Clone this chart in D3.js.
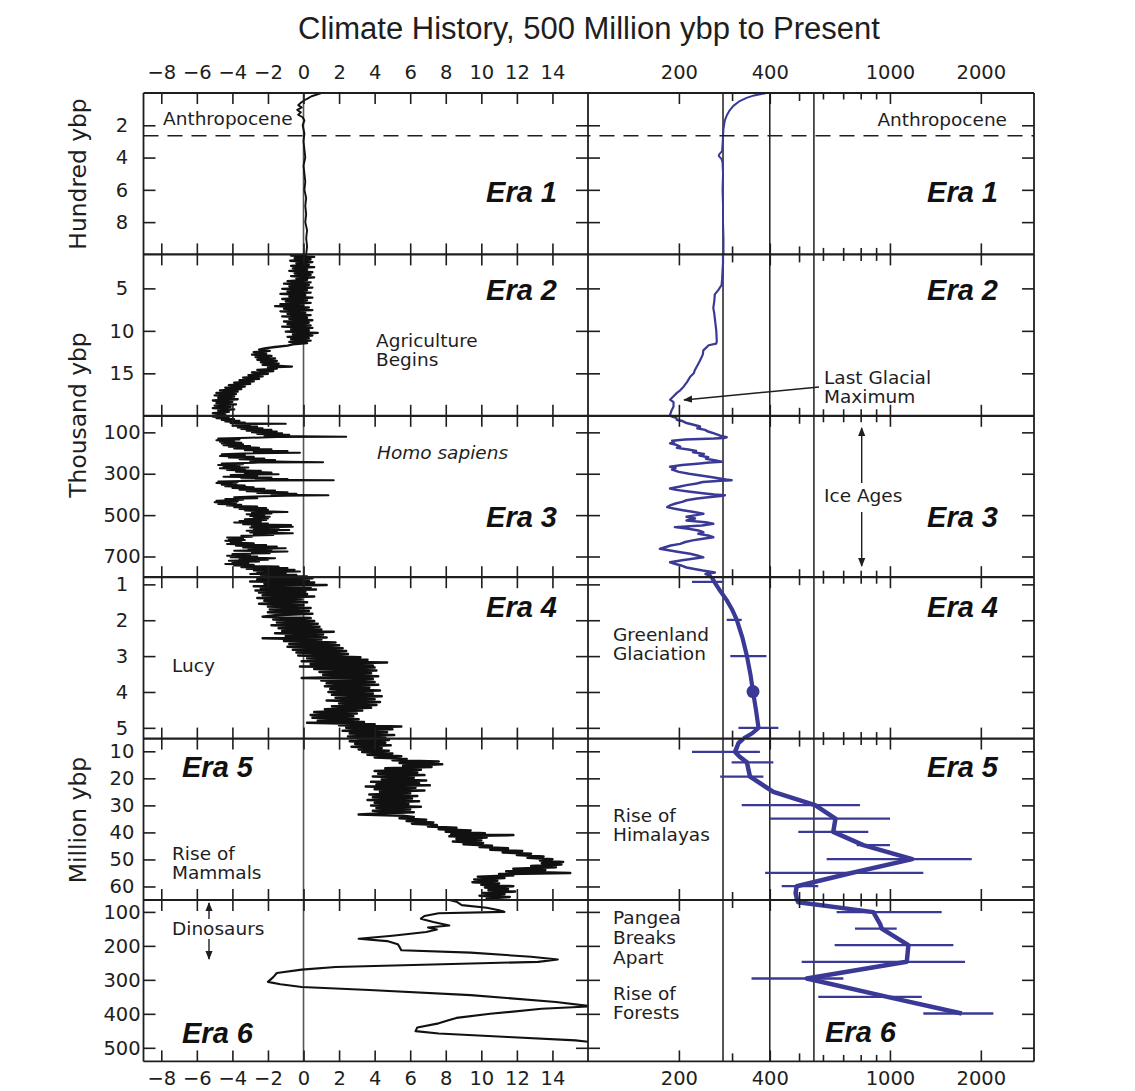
<!DOCTYPE html>
<html><head><meta charset="utf-8">
<script src="https://cdn.jsdelivr.net/npm/d3@7"></script>
<style>
html,body{margin:0;padding:0;background:#fff;}
svg{display:block;}
</style></head><body>
<svg id="chart" width="1135" height="1091"></svg>
<script>
// ---------------- DATA ----------------
const chartTitle = "Climate History, 500 Million ybp to Present";
const eraNames = ["Era 1","Era 2","Era 3","Era 4","Era 5","Era 6"];
// age range of each era row (units: hundred yr, thousand yr, thousand yr, million yr, million yr, million yr)
const eraDomains = [[0,10],[1,20],[20,800],[0.8,5.3],[5.3,65],[65,540]];
const eraTicks = [[2,4,6,8],[5,10,15],[100,300,500,700],[1,2,3,4,5],[10,20,30,40,50,60],[100,200,300,400,500]];
const axisTitles = ["Hundred ybp","Thousand ybp","Million ybp"];
const tempTicks = [-8,-6,-4,-2,0,2,4,6,8,10,12,14];
const co2Ticks = [200,300,400,500,600,700,800,900,1000,2000];
const co2Labels = [200,400,1000,2000];
const co2RefLines = [280,400,560];
const anthropoceneAge = 2.65; // hundred ybp

// temperature anomaly (deg C): [age, temp]
const tempEra1 = [[0,1.0],[0.1,0.75],[0.2,0.45],[0.33,0.25],[0.45,0.05],[0.6,-0.15],[0.75,-0.3],[0.9,-0.1],[1.05,-0.35],[1.2,-0.15],[1.35,-0.3],[1.5,-0.05],[1.7,0.05],[2.0,-0.05],[2.5,0.05],[3.0,0.0],[3.5,0.05],[4.0,0.1],[4.5,0.0],[5.0,0.05],[5.5,0.1],[6.0,0.05],[6.5,0.15],[7.0,0.1],[7.5,0.15],[8.0,0.1],[8.5,0.2],[9.0,0.15],[9.5,0.2],[10,0.15]];
const tempEra2 = [[1.0,0.2],[1.15,-0.7],[1.3,0.6],[1.45,-0.5],[1.6,0.4],[1.75,-0.75],[1.9,0.5],[2.05,-0.4],[2.2,0.3],[2.35,-0.7],[2.5,0.6],[2.65,-0.6],[2.8,0.2],[2.95,-0.8],[3.1,0.5],[3.25,-0.5],[3.4,0.4],[3.55,-0.7],[3.7,0.6],[3.85,-0.4],[4.0,0.2],[4.15,-0.9],[4.3,0.4],[4.45,-1.1],[4.6,0.3],[4.75,-0.8],[4.9,0.5],[5.05,-1.2],[5.2,0.2],[5.35,-0.9],[5.5,0.4],[5.65,-1.3],[5.8,0.1],[5.95,-0.8],[6.1,0.5],[6.25,-1.2],[6.4,0.2],[6.55,-1.0],[6.7,0.4],[6.85,-1.3],[7.0,0.0],[7.1,-1.6],[7.25,0.3],[7.4,-1.1],[7.55,0.5],[7.7,-1.3],[7.85,0.1],[8.0,-0.9],[8.15,0.4],[8.3,-1.2],[8.45,0.2],[8.6,-0.8],[8.75,0.5],[8.9,-1.1],[9.05,0.3],[9.2,-0.9],[9.35,0.4],[9.5,-1.2],[9.65,0.5],[9.8,-0.7],[9.95,0.3],[10.1,-1.0],[10.25,0.8],[10.4,-0.6],[10.55,0.5],[10.7,-0.9],[10.85,0.3],[11.0,-0.7],[11.15,0.4],[11.3,-0.8],[11.45,0.2],[11.6,-0.6],[11.75,-0.9],[11.9,-1.6],[12.05,-2.2],[12.2,-2.5],[12.35,-1.9],[12.5,-2.8],[12.65,-2.1],[12.8,-2.9],[12.95,-1.8],[13.1,-2.7],[13.25,-1.6],[13.4,-2.6],[13.55,-1.5],[13.7,-2.4],[13.85,-1.4],[14.0,-2.3],[14.2,-0.65],[14.3,-2.0],[14.45,-1.5],[14.6,-2.6],[14.75,-1.7],[14.9,-2.9],[15.05,-2.0],[15.2,-3.1],[15.35,-2.3],[15.5,-3.4],[15.65,-2.5],[15.8,-3.6],[15.95,-2.8],[16.1,-3.9],[16.25,-3.0],[16.4,-4.2],[16.55,-3.3],[16.7,-4.4],[16.85,-3.5],[17.0,-4.7],[17.15,-3.7],[17.3,-4.9],[17.45,-3.8],[17.6,-5.0],[17.75,-3.9],[17.9,-4.8],[18.05,-3.7],[18.2,-5.1],[18.35,-4.0],[18.5,-4.9],[18.65,-3.8],[18.8,-5.0],[18.95,-4.1],[19.1,-5.1],[19.25,-3.9],[19.4,-4.8],[19.55,-4.2],[19.7,-5.1],[19.85,-4.4],[20,-4.8]];
const tempEra3 = [[20,-4.7],[24,-5.1],[28,-4.2],[32,-4.9],[36,-3.9],[40,-4.6],[44,-3.6],[48,-4.4],[52,-3.3],[56,-4.1],[59,-1.0],[60,-3.8],[64,-3.0],[68,-4.0],[72,-2.6],[76,-3.7],[80,-2.3],[84,-3.5],[88,-1.8],[92,-3.2],[96,-1.5],[100,-2.9],[104,-1.2],[108,-2.6],[112,-0.8],[116,-2.2],[119,-0.3],[121,2.4],[123,-1.5],[126,-3.0],[130,-4.8],[134,-3.6],[138,-4.9],[142,-3.9],[146,-4.7],[150,-3.5],[154,-4.6],[158,-3.4],[162,-4.5],[166,-3.0],[170,-4.2],[174,-2.5],[178,-3.9],[182,-1.8],[186,-3.3],[190,-0.9],[194,-2.8],[198,-0.2],[202,-3.4],[206,-4.6],[210,-3.3],[214,-4.7],[218,-2.8],[222,-4.2],[226,-2.2],[230,-3.6],[234,-1.6],[238,-3.0],[242,-0.9],[244,1.1],[246,-2.5],[250,-4.6],[254,-3.4],[258,-4.8],[262,-3.6],[266,-4.5],[270,-3.1],[274,-4.7],[278,-3.3],[282,-4.3],[286,-2.4],[290,-3.8],[294,-1.8],[298,-3.3],[302,-1.4],[306,-4.1],[310,-2.6],[314,-4.5],[318,-1.8],[322,-3.5],[326,-0.9],[329,-2.4],[331,1.7],[333,-2.0],[337,-4.8],[341,-3.7],[345,-4.9],[349,-3.8],[353,-4.6],[357,-3.3],[361,-4.4],[365,-2.8],[369,-4.0],[373,-2.2],[377,-3.6],[381,-1.6],[385,-3.2],[389,-0.9],[393,-2.6],[397,-0.4],[401,-1.8],[404,1.4],[406,-1.0],[410,-2.8],[414,-3.9],[418,-2.6],[422,-4.4],[426,-3.4],[430,-4.9],[434,-3.7],[438,-5.0],[442,-3.8],[446,-4.8],[450,-3.5],[454,-4.3],[458,-2.6],[462,-3.9],[466,-2.1],[470,-3.6],[474,-2.0],[478,-3.3],[482,-1.7],[485,-0.9],[488,-2.9],[492,-1.8],[496,-3.2],[500,-2.2],[504,-3.0],[508,-1.9],[512,-2.8],[516,-2.0],[520,-3.3],[524,-2.1],[528,-3.6],[532,-2.4],[536,-3.9],[540,-2.0],[544,-3.4],[548,-0.7],[552,-2.9],[556,-0.6],[560,-3.0],[564,-1.4],[568,-2.8],[572,-0.8],[576,-3.2],[580,-1.5],[584,-3.0],[588,-0.6],[592,-2.8],[596,-1.7],[600,-3.5],[604,-2.9],[608,-4.3],[612,-3.4],[616,-4.2],[620,-3.3],[624,-4.4],[628,-3.5],[632,-4.1],[636,-2.8],[640,-4.3],[644,-2.1],[648,-3.8],[652,-1.5],[656,-3.4],[660,-1.0],[664,-3.1],[668,-1.8],[672,-3.9],[676,-0.9],[680,-2.9],[684,-1.9],[688,-4.0],[692,-3.0],[696,-4.3],[700,-2.6],[704,-4.1],[708,-1.6],[712,-3.6],[716,-2.0],[720,-4.2],[724,-2.5],[728,-4.0],[732,-3.1],[736,-4.4],[740,-2.8],[744,-3.9],[748,-1.4],[752,-3.5],[756,-0.9],[760,-3.2],[764,-0.5],[768,-2.8],[772,-0.2],[776,-2.6],[780,-1.0],[784,-3.0],[788,-0.4],[792,-2.4],[796,0.2],[800,-1.8]];
const tempEra4 = [[0.80,-1.5],[0.83,0.5],[0.86,-2.6],[0.89,0.3],[0.92,-3.0],[0.95,0.6],[0.98,-2.2],[1.02,1.3],[1.05,-2.8],[1.08,0.4],[1.11,-2.4],[1.14,0.7],[1.17,-2.7],[1.20,0.1],[1.23,-2.5],[1.27,0.2],[1.30,-2.3],[1.34,0.6],[1.38,-2.6],[1.42,-0.1],[1.46,-2.2],[1.50,0.2],[1.54,-2.5],[1.58,0.0],[1.62,-2.0],[1.66,0.4],[1.70,-1.9],[1.74,0.3],[1.78,-2.0],[1.82,0.5],[1.86,-1.6],[1.90,-2.3],[1.94,0.4],[1.98,-1.7],[2.02,0.6],[2.06,-1.5],[2.10,0.8],[2.14,-1.8],[2.18,0.9],[2.22,-1.4],[2.26,1.0],[2.30,-1.2],[2.32,1.7],[2.36,-1.6],[2.40,1.1],[2.44,-1.0],[2.48,1.3],[2.50,-2.3],[2.54,1.0],[2.58,-1.1],[2.62,1.8],[2.66,-0.8],[2.70,2.0],[2.74,-0.9],[2.78,2.2],[2.82,-0.6],[2.86,2.4],[2.90,-0.4],[2.94,2.5],[2.98,-0.3],[3.03,3.2],[3.06,0.2],[3.10,3.6],[3.14,-0.1],[3.18,4.7],[3.22,0.4],[3.26,3.9],[3.29,-0.2],[3.32,4.0],[3.36,0.6],[3.40,4.1],[3.44,0.9],[3.48,3.8],[3.52,1.1],[3.56,4.2],[3.61,-0.1],[3.64,3.9],[3.68,1.0],[3.72,4.0],[3.76,1.3],[3.80,4.2],[3.84,1.2],[3.88,3.7],[3.92,1.5],[3.96,4.3],[4.00,1.4],[4.04,3.9],[4.08,1.6],[4.12,4.4],[4.16,1.8],[4.20,4.0],[4.24,1.3],[4.28,4.3],[4.32,2.0],[4.36,4.1],[4.40,1.6],[4.44,3.8],[4.48,1.2],[4.52,3.3],[4.56,0.6],[4.60,3.0],[4.64,0.4],[4.68,2.8],[4.72,0.5],[4.76,3.1],[4.80,0.8],[4.84,3.4],[4.86,0.2],[4.90,4.0],[4.93,2.0],[4.96,5.5],[5.00,2.4],[5.04,5.0],[5.08,2.2],[5.12,4.7],[5.16,2.6],[5.20,5.1],[5.24,2.5],[5.28,4.6],[5.30,3.0]];
const tempEra5 = [[5.3,3.0],[5.8,4.8],[6.3,2.6],[6.8,4.6],[7.3,2.9],[7.8,4.9],[8.3,2.7],[8.8,4.4],[9.3,3.1],[9.8,4.8],[10.3,3.3],[10.8,5.0],[11.3,3.6],[11.8,5.5],[12.3,4.0],[12.8,5.8],[13.3,5.0],[13.8,7.6],[14.3,5.4],[14.8,7.8],[15.3,5.6],[15.8,7.2],[16.3,4.6],[16.8,6.6],[17.3,4.0],[17.8,6.4],[18.3,4.2],[18.8,6.8],[19.3,3.9],[19.8,6.2],[20.3,4.4],[20.8,6.9],[21.3,3.8],[21.8,6.5],[22.3,4.1],[22.6,7.1],[23.0,3.5],[23.5,6.3],[24.0,4.0],[24.5,6.8],[25.0,4.3],[25.5,6.0],[26.0,3.7],[26.5,6.4],[27.0,3.9],[27.5,6.1],[28.0,3.6],[28.5,6.5],[29.0,4.0],[29.5,5.9],[30.0,3.8],[30.5,6.6],[31.0,4.1],[31.5,6.0],[32.0,3.9],[32.5,6.2],[33.0,4.2],[33.4,3.1],[33.8,5.6],[34.3,6.2],[34.8,5.4],[35.3,6.9],[35.8,5.8],[36.3,7.3],[36.8,6.1],[37.3,7.5],[37.8,7.0],[38.3,8.6],[38.8,7.6],[39.3,9.4],[39.8,8.0],[40.3,10.2],[40.8,8.3],[41.0,11.8],[41.4,8.2],[41.9,10.3],[42.4,8.6],[42.9,10.0],[43.4,8.4],[43.9,10.1],[44.4,9.0],[44.9,10.6],[45.4,9.9],[45.9,11.5],[46.4,10.5],[46.9,12.3],[47.4,11.2],[47.9,12.8],[48.4,12.0],[48.9,13.5],[49.4,12.6],[49.9,14.0],[50.4,13.3],[50.9,14.6],[51.4,13.4],[51.9,14.5],[52.4,12.8],[52.9,14.2],[53.4,11.8],[53.9,13.6],[54.4,11.4],[55.0,15.0],[55.4,11.0],[55.9,11.8],[56.4,9.8],[56.9,11.3],[57.4,9.6],[57.9,10.9],[58.4,9.5],[58.9,11.0],[59.4,10.0],[59.9,11.8],[60.4,10.2],[60.9,11.5],[61.4,10.4],[61.9,11.9],[62.4,10.1],[62.9,11.3],[63.4,9.9],[63.9,11.6],[64.4,10.3],[65.0,11.0]];
const tempEra6 = [[65,8.2],[70,8.6],[80,8.9],[88,10.3],[95,11.0],[100,11.3],[104,7.6],[112,6.8],[120,6.6],[130,7.3],[140,8.2],[146,7.0],[152,7.5],[159,6.9],[170,5.0],[179,3.1],[186,4.7],[195,5.3],[203,5.4],[213,5.5],[220,9.4],[232,12.8],[240,14.3],[247,13.2],[262,1.8],[270,-0.1],[280,-1.5],[292,-1.7],[306,-2.0],[313,-1.3],[321,-0.1],[330,3.7],[345,9.4],[365,14.2],[378,16.2],[385,13.4],[400,10.5],[412,8.6],[418,8.2],[428,7.6],[440,6.4],[451,6.3],[458,7.6],[468,11.5],[478,15.3],[484,16.3],[500,18],[540,18]];

// CO2 (ppm): [age, ppm]
const co2Era1 = [[0,390],[0.15,355],[0.3,335],[0.5,318],[0.8,303],[1.06,295],[1.4,288],[1.7,284],[2.2,281],[2.7,280],[3.2,279],[3.6,278],[3.8,272],[3.9,271],[4.1,277],[4.3,279],[5,280],[6,279],[7,280],[8,280],[9,281],[10,281]];
const co2Era2 = [[1,280],[2,280],[3,279],[4,278],[4.6,277],[5.2,270],[5.7,263],[6.5,262],[7.3,260],[8,262],[9,264],[10,266],[11.2,267],[11.5,266],[11.7,251],[12.3,241],[12.8,240],[13.5,235],[14,231],[14.6,226],[15,224],[15.4,218],[16,213],[16.6,207],[17,202],[17.3,197],[17.7,192],[18.1,187],[18.4,192],[18.9,192],[19.4,189],[19.9,187],[20,188]];
const co2Era3 = [[20,188],[25,191],[30,196],[39,197],[45,205],[55,212],[62,222],[72,235],[80,230],[88,244],[96,250],[104,260],[112,270],[118,276],[124,288],[127,282],[130,262],[135,210],[140,190],[145,193],[153,187],[160,196],[169,202],[175,197],[183,215],[190,228],[196,223],[204,242],[212,234],[220,250],[228,246],[236,265],[242,277],[246,252],[252,230],[258,205],[266,187],[272,195],[280,190],[291,200],[300,216],[308,236],[316,255],[322,270],[328,286],[331,299],[334,275],[340,240],[347,229],[355,212],[363,200],[371,187],[378,196],[386,215],[394,240],[400,262],[404,284],[408,275],[414,250],[420,230],[428,212],[436,205],[444,195],[452,188],[461,183],[468,192],[476,206],[484,222],[493,241],[500,228],[508,212],[516,226],[526,212],[534,245],[542,260],[550,238],[558,194],[566,215],[574,232],[582,241],[590,232],[598,250],[607,260],[614,240],[622,222],[630,210],[639,202],[647,188],[655,180],[663,173],[670,185],[678,200],[687,218],[695,230],[704,241],[710,225],[718,205],[728,187],[736,195],[745,205],[753,212],[760,225],[768,240],[777,263],[785,245],[793,255],[800,257]];
const co2Era4 = [[0.8,257],[0.93,262],[1.2,275],[1.44,288],[1.7,300],[1.99,311],[2.5,325],[3.0,336],[3.5,345],[3.99,352],[4.5,360],[5.0,367],[5.15,350],[5.3,327]];
const co2Era5 = [[5.3,327],[7,315],[10.2,307],[12,318],[14.1,336],[19.4,344],[25,411],[29.9,565],[34.9,660],[39.8,649],[44.7,816],[49.9,1186],[55,745],[59.9,491],[62.5,487],[65,493]];
const co2Era6 = [[65,493],[71.5,497],[100.7,881],[135,927],[149,939],[198,1151],[247,1137],[296,530],[350,980],[399,1729]];
// error bars: [age, low ppm, high ppm]
const co2ErrEra4 = [[0.93,221,280],[1.99,288,323],[3.0,296,390],[5.0,315,427]];
const co2ErrEra5 = [[10.2,221,371],[14.1,299,411],[19.4,274,381],[29.9,323,796],[34.9,401,1001],[39.8,497,848],[44.7,776,1000],[49.9,617,1866],[55,386,1290],[59.9,438,579]];
const co2ErrEra6 = [[100.7,666,1484],[149,766,1053],[198,656,1622],[247,510,1773],[296,348,701],[350,579,1275],[399,1290,2200]];
const co2DotEra4 = [[3.99,352]];

// annotations
const leftNotes = [
  {lines:["Anthropocene"], x:163, y:125},
  {lines:["Agriculture","Begins"], x:376, y:347},
  {lines:["Homo sapiens"], x:377, y:459, italic:true},
  {lines:["Lucy"], x:172, y:672},
  {lines:["Rise of","Mammals"], x:172, y:860},
  {lines:["Dinosaurs"], x:172, y:935}
];
const rightNotes = [
  {lines:["Anthropocene"], x:1007, y:126, anchor:"end"},
  {lines:["Last Glacial","Maximum"], x:824, y:384},
  {lines:["Ice Ages"], x:824, y:502},
  {lines:["Greenland","Glaciation"], x:613, y:641},
  {lines:["Rise of","Himalayas"], x:613, y:822},
  {lines:["Pangea","Breaks","Apart"], x:613, y:924, lh:20},
  {lines:["Rise of","Forests"], x:613, y:1000}
];

// ---------------- LAYOUT ----------------
const plotLeft = 143.5, plotMid = 588, plotRight = 1034, plotTop = 93, plotBottom = 1061.4;
const eraH = (plotBottom - plotTop) / 6;
const eraTop = i => plotTop + i * eraH;
const BLUE = "#3a3a96", INK = "#1e1e1e";
const SMALL = "'DejaVu Sans', sans-serif";
const BIG = "'Liberation Sans', Arial, Helvetica, sans-serif";

const svg = d3.select("#chart");
const defs = svg.append("defs");
defs.append("marker").attr("id","arr").attr("viewBox","0 0 10 10").attr("refX",9).attr("refY",5)
  .attr("markerWidth",6.5).attr("markerHeight",6.5).attr("orient","auto-start-reverse")
  .append("path").attr("d","M0,1 L10,5 L0,9 z").attr("fill",INK);

const xT = d3.scaleLinear().domain([-9,16]).range([plotLeft, plotMid]);
const xC = d3.scaleLog().domain([100,3000]).range([plotMid, plotRight]);
const yS = eraDomains.map((d,i) => d3.scaleLinear().domain(d).range([eraTop(i), eraTop(i+1)]));

for (let i = 0; i < 6; i++) {
  defs.append("clipPath").attr("id","cl"+i).append("rect")
    .attr("x",plotLeft).attr("y",eraTop(i)).attr("width",plotMid-plotLeft).attr("height",eraH);
  defs.append("clipPath").attr("id","cr"+i).append("rect")
    .attr("x",plotMid).attr("y",eraTop(i)).attr("width",plotRight-plotMid).attr("height",eraH);
}

// zero line & CO2 reference lines
svg.append("line").attr("x1",xT(0)).attr("x2",xT(0)).attr("y1",plotTop).attr("y2",plotBottom)
  .attr("stroke","#555").attr("stroke-width",1.6);
co2RefLines.forEach(v => svg.append("line").attr("x1",xC(v)).attr("x2",xC(v)).attr("y1",plotTop).attr("y2",plotBottom)
  .attr("stroke",INK).attr("stroke-width",1.5));

// temperature lines
const tempSeries = [tempEra1,tempEra2,tempEra3,tempEra4,tempEra5,tempEra6];
const tempWidths = [1.9,2.3,2.0,2.5,2.5,2.1];
tempSeries.forEach((s,i) => {
  const ln = d3.line().x(d => xT(d[1])).y(d => yS[i](d[0]));
  svg.append("path").attr("d", ln(s)).attr("fill","none").attr("stroke","#111")
    .attr("stroke-width",tempWidths[i]).attr("stroke-linejoin","round").attr("clip-path","url(#cl"+i+")");
});

// CO2
const co2Series = [co2Era1,co2Era2,co2Era3,co2Era4,co2Era5,co2Era6];
const co2Widths = [2,2.2,2.5,4.2,4.5,4.5];
const co2Errs = [null,null,null,co2ErrEra4,co2ErrEra5,co2ErrEra6];
co2Series.forEach((s,i) => {
  const g = svg.append("g").attr("clip-path","url(#cr"+i+")");
  if (co2Errs[i]) {
    g.selectAll("line.eb").data(co2Errs[i]).join("line")
      .attr("x1", d => xC(d[1])).attr("x2", d => xC(d[2]))
      .attr("y1", d => yS[i](d[0])).attr("y2", d => yS[i](d[0]))
      .attr("stroke",BLUE).attr("stroke-width",2.3);
  }
  const ln = d3.line().x(d => xC(d[1])).y(d => yS[i](d[0]));
  g.append("path").attr("d", ln(s)).attr("fill","none").attr("stroke",BLUE)
    .attr("stroke-width",co2Widths[i]).attr("stroke-linejoin","round");
});
svg.selectAll("circle.dot").data(co2DotEra4).join("circle")
  .attr("cx", d => xC(d[1])).attr("cy", d => yS[3](d[0])).attr("r",6.5).attr("fill",BLUE);

// anthropocene dashed line
svg.append("line").attr("x1",plotLeft).attr("x2",plotRight)
  .attr("y1",yS[0](anthropoceneAge)).attr("y2",yS[0](anthropoceneAge))
  .attr("stroke",INK).attr("stroke-width",1.5).attr("stroke-dasharray","15,9");

// borders
for (let i = 0; i <= 6; i++) {
  svg.append("line").attr("x1",plotLeft).attr("x2",plotRight).attr("y1",eraTop(i)).attr("y2",eraTop(i))
    .attr("stroke",INK).attr("stroke-width",(i===0||i===6)?1.8:2.2);
}
[plotLeft, plotMid, plotRight].forEach(x => svg.append("line").attr("x1",x).attr("x2",x)
  .attr("y1",plotTop).attr("y2",plotBottom).attr("stroke",INK).attr("stroke-width",1.8));

const minusFmt = d => d < 0 ? "\u2212" + Math.abs(d) : String(d);
function styleAxis(g) {
  g.select(".domain").remove();
  g.selectAll(".tick line").attr("stroke",INK).attr("stroke-width",1.6);
  g.attr("font-family",SMALL).attr("font-size",19.5);
  g.selectAll("text").attr("fill",INK);
}
const co2TickLen = v => (v===200||v===1000||v===2000||v===400) ? 11 : (v===300||v===500 ? 8 : 6.5);

for (let i = 0; i < 6; i++) {
  const t = eraTop(i), b = eraTop(i+1);
  // temperature x ticks
  svg.append("g").attr("transform",`translate(0,${t})`)
    .call(d3.axisTop(xT).tickValues(tempTicks).tickSize(-11).tickPadding(14).tickFormat(i===0 ? minusFmt : ""))
    .call(styleAxis);
  svg.append("g").attr("transform",`translate(0,${b})`)
    .call(d3.axisBottom(xT).tickValues(tempTicks).tickSize(-11).tickPadding(10).tickFormat(i===5 ? minusFmt : ""))
    .call(styleAxis);
  // CO2 x ticks
  const gt = svg.append("g").attr("transform",`translate(0,${t})`)
    .call(d3.axisTop(xC).tickValues(co2Ticks).tickSize(-11).tickPadding(14)
      .tickFormat(v => (i===0 && co2Labels.includes(v)) ? String(v) : ""))
    .call(styleAxis);
  gt.selectAll(".tick line").attr("y2", v => co2TickLen(v));
  const gb = svg.append("g").attr("transform",`translate(0,${b})`)
    .call(d3.axisBottom(xC).tickValues(co2Ticks).tickSize(-11).tickPadding(10)
      .tickFormat(v => (i===5 && co2Labels.includes(v)) ? String(v) : ""))
    .call(styleAxis);
  gb.selectAll(".tick line").attr("y2", v => -co2TickLen(v));
  // y ticks
  const gl = svg.append("g").attr("transform",`translate(${plotLeft},0)`)
    .call(d3.axisLeft(yS[i]).tickValues(eraTicks[i]).tickSize(-12).tickFormat(d3.format("d")))
    .call(styleAxis);
  gl.selectAll("text").attr("x",-21.5).attr("text-anchor","middle");
  svg.append("g").attr("transform",`translate(${plotMid},0)`)
    .call(d3.axisRight(yS[i]).tickValues(eraTicks[i]).tickSize(-12).tickFormat("")).call(styleAxis);
  svg.append("g").attr("transform",`translate(${plotMid},0)`)
    .call(d3.axisLeft(yS[i]).tickValues(eraTicks[i]).tickSize(-12).tickFormat("")).call(styleAxis);
  svg.append("g").attr("transform",`translate(${plotRight},0)`)
    .call(d3.axisRight(yS[i]).tickValues(eraTicks[i]).tickSize(-12).tickFormat("")).call(styleAxis);
}

// title
svg.append("text").attr("x",589).attr("y",38.5).attr("text-anchor","middle")
  .attr("font-family",BIG).attr("font-size",31).attr("fill",INK).text(chartTitle);

// axis titles
const axisTitlePos = [174, 415, 820];
axisTitles.forEach((t,k) => {
  svg.append("text").attr("transform",`translate(86,${axisTitlePos[k]}) rotate(-90)`)
    .attr("text-anchor","middle").attr("font-family",SMALL).attr("font-size",23.4).attr("fill",INK).text(t);
});

// era labels
const eraLeftPos = [[557,201.7,"end"],[557,299.5,"end"],[557,527,"end"],[557,617,"end"],[182,777,"start"],[182,1043,"start"]];
const eraRightPos = [[998,202,"end"],[998,299.5,"end"],[998,527,"end"],[998,617,"end"],[998,777,"end"],[825,1042,"start"]];
eraNames.forEach((n,i) => {
  [eraLeftPos[i], eraRightPos[i]].forEach(p => {
    svg.append("text").attr("x",p[0]).attr("y",p[1]).attr("text-anchor",p[2])
      .attr("font-family",BIG).attr("font-weight","bold").attr("font-style","italic")
      .attr("font-size",29).attr("fill","#111").text(n);
  });
});

// notes
function drawNote(n) {
  const lh = n.lh || 19;
  n.lines.forEach((ln,k) => {
    svg.append("text").attr("x",n.x).attr("y",n.y + k*lh).attr("text-anchor",n.anchor||"start")
      .attr("font-family",SMALL).attr("font-size",18.5).attr("fill",INK)
      .attr("font-style", n.italic ? "italic" : "normal").text(ln);
  });
}
leftNotes.forEach(drawNote);
rightNotes.forEach(drawNote);

// arrows
const arrows = [
  [819,387,684,400],
  [861.7,483,861.7,428],
  [861.7,512,861.7,566],
  [209,919,209,903],
  [209,939,209,959]
];
arrows.forEach(a => svg.append("line").attr("x1",a[0]).attr("y1",a[1]).attr("x2",a[2]).attr("y2",a[3])
  .attr("stroke",INK).attr("stroke-width",1.4).attr("marker-end","url(#arr)"));
</script>
</body></html>
